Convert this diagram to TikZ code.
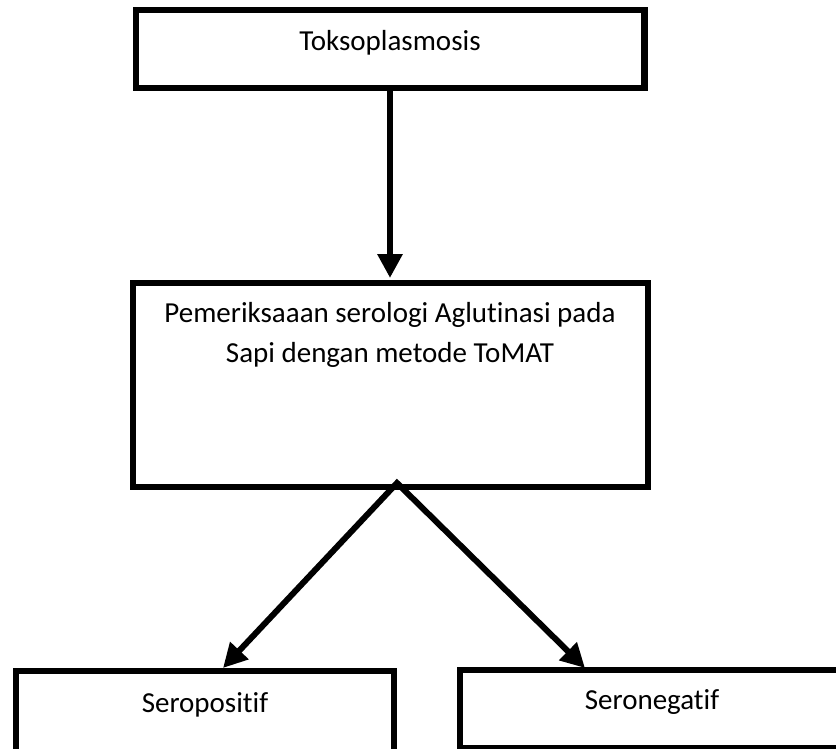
\documentclass[tikz,border=0pt]{standalone}
\usepackage{fontspec}
\setmainfont[Ligatures=CommonOff]{Carlito}
\usetikzlibrary{arrows.meta}
\begin{document}
\begin{tikzpicture}[x=1pt,y=-1pt,
  box/.style={draw=black,line width=6.5pt,rectangle,inner sep=0pt,fill=white},
  lbl/.style={font=\fontsize{29}{40}\selectfont,align=center,inner sep=0pt},
  arr/.style={line width=6pt,-{Triangle[length=24pt,width=24pt]}},
  darr/.style={line width=6pt,miter limit=20,{Triangle[length=24pt,width=24pt]}-{Triangle[length=24pt,width=24pt]}}]
\useasboundingbox (0,0) rectangle (836,749);
\fill[white] (0,0) rectangle (836,749);
% boxes
\node[box,minimum width=508.5pt,minimum height=78pt] (top) at (390,49) {};
\node[box,minimum width=515pt,minimum height=204pt] (mid) at (390.5,385) {};
\node[box,minimum width=378pt,minimum height=81pt] (left) at (205,711.5) {};
\node[box,minimum width=390pt,minimum height=78pt] (right) at (655,709) {};
% texts
\node[lbl] (ttext) at (390,43) {Toksoplasmosis};
\node[lbl] (mtext) at (390,335) {Pemeriksaaan serologi Aglutinasi pada\\Sapi dengan metode ToMAT};
\node[lbl] (ltext) at (205,705) {Seropositif};
\node[lbl] (rtext) at (652,702) {Seronegatif};
% connectors
\coordinate (apex) at (397,483);
\coordinate (lt) at (223,668);
\coordinate (rt) at (585,668);
\coordinate (ttip) at (390,278);
\draw[arr] (top.south) -- (ttip);
\draw[darr] (lt) -- (apex) -- (rt);
\end{tikzpicture}
\end{document}
